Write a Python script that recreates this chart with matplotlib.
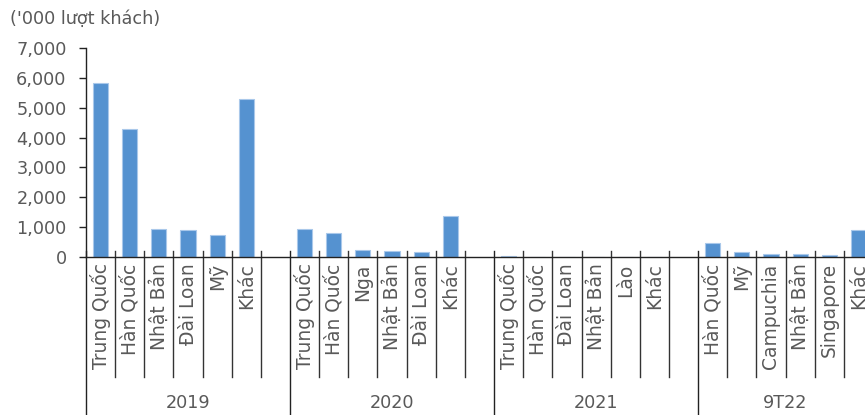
import matplotlib
matplotlib.use("Agg")
import matplotlib.pyplot as plt
from matplotlib.transforms import blended_transform_factory

groups = ["2019", "2020", "2021", "9T22"]
cats_2019 = ["Trung Quốc", "Hàn Quốc", "Nhật Bản", "Đài Loan", "Mỹ", "Khác"]
vals_2019 = [5820, 4280, 940, 920, 740, 5280]
cats_2020 = ["Trung Quốc", "Hàn Quốc", "Nga", "Nhật Bản", "Đài Loan", "Khác"]
vals_2020 = [950, 825, 240, 200, 180, 1380]
cats_2021 = ["Trung Quốc", "Hàn Quốc", "Đài Loan", "Nhật Bản", "Lào", "Khác"]
vals_2021 = [40, 15, 5, 5, 3, 25]
cats_9t22 = ["Hàn Quốc", "Mỹ", "Campuchia", "Nhật Bản", "Singapore", "Khác"]
vals_9t22 = [480, 165, 110, 100, 78, 900]
yticks = [0, 1000, 2000, 3000, 4000, 5000, 6000, 7000]
ylabel = "('000 lượt khách)"

all_cats = [cats_2019, cats_2020, cats_2021, cats_9t22]
all_vals = [vals_2019, vals_2020, vals_2021, vals_9t22]
# group slot counts (blank slot after first three groups)
slots = [7, 7, 7, 6]

W, H = 865, 415
fig = plt.figure(figsize=(W / 100, H / 100), dpi=100)
x0, y0, ytop = 86, 257.3, 47.7
slot_px = (873 - 86) / 27
n_slots = sum(slots)
ax = fig.add_axes([x0 / W, (H - y0) / H, n_slots * slot_px / W, (y0 - ytop) / H])

txt = "#595959"
fs = 12.7
bar_color = "#5592D0"

start = 0
positions, values, labels = [], [], []
group_bounds = []
for g, cats, vals, ns in zip(groups, all_cats, all_vals, slots):
    group_bounds.append((start, start + ns))
    for i, (c, v) in enumerate(zip(cats, vals)):
        positions.append(start + i)
        values.append(v)
        labels.append(c)
    start += ns

ax.bar(positions, values, width=0.52, color=bar_color, edgecolor="#A9C8EA", linewidth=0.8, zorder=2)
ax.set_xlim(-0.5, n_slots - 0.5)
ax.set_ylim(0, 7000)
ax.set_yticks(yticks)
ax.set_yticklabels([f"{t:,}" for t in yticks], fontsize=fs, color=txt)
ax.tick_params(axis="y", direction="out", length=5, width=1, color="#222222", pad=9)
ax.set_xticks([])
for s in ["top", "right"]:
    ax.spines[s].set_visible(False)
ax.spines["left"].set_color("#222222")
ax.spines["bottom"].set_color("#222222")
ax.spines["left"].set_linewidth(1)
ax.spines["bottom"].set_linewidth(1)

axh = y0 - ytop
trans = blended_transform_factory(ax.transData, ax.transAxes)
up = 6 / axh
lvl1 = -(377 - y0) / axh
lvl2 = -(415 - y0) / axh

gstarts = [b[0] for b in group_bounds]
for b in range(n_slots + 1):
    xb = b - 0.5
    if b in gstarts:
        ax.plot([xb, xb], [up, lvl2], transform=trans, color="#222222", lw=1, clip_on=False)
    else:
        ax.plot([xb, xb], [up, lvl1], transform=trans, color="#333333", lw=1, clip_on=False)

for p, lab in zip(positions, labels):
    ax.text(p, -6 / axh, lab, transform=trans, rotation=90, ha="center", va="top",
            fontsize=13.4, color=txt)

for g, (a, b) in zip(groups, group_bounds):
    ax.text((a + b - 1) / 2, -(403 - y0) / axh, g, transform=trans, ha="center", va="center",
            fontsize=fs, color=txt)

fig.text(10 / W, (H - 19) / H, ylabel, ha="left", va="center", fontsize=fs, color=txt)

fig.savefig("out.png", dpi=100)
